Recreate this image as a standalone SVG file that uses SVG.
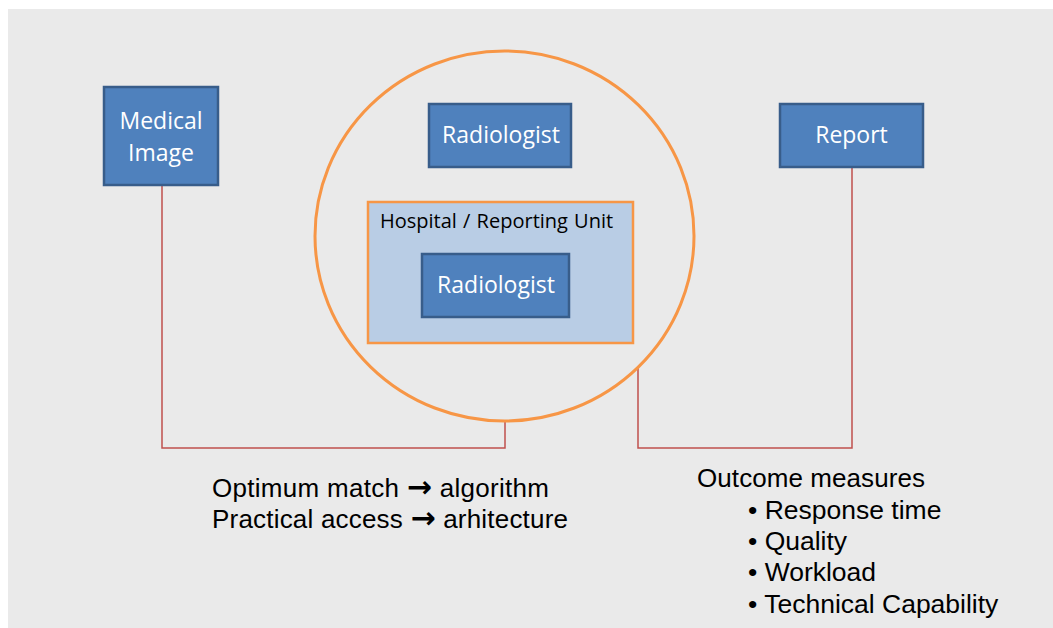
<svg xmlns="http://www.w3.org/2000/svg" width="1053" height="628" viewBox="0 0 1053 628">
  <style>
    .box { fill: #4F81BD; stroke: #385D8A; stroke-width: 2.5; }
    .boxlabel { font-family: "Open Sans", "Liberation Sans", sans-serif; font-size: 23px; fill: #FFFFFF; text-anchor: middle; }
    .link { fill: none; stroke: #C0504D; stroke-width: 1.5; }
    .note { font-family: "Liberation Sans", Arial, sans-serif; font-size: 26px; fill: #000000; }
    .item { font-family: "Liberation Sans", Arial, sans-serif; font-size: 26.5px; fill: #000000; }
    .arrow { font-family: "DejaVu Sans", sans-serif; font-weight: bold; font-size: 30px; }
  </style>

  <!-- page background -->
  <rect x="8" y="9" width="1045" height="619" fill="#EAEAEA"/>

  <!-- connectors -->
  <g id="connectors">
    <polyline class="link" points="162,186 162,448 505,448 505,421"/>
    <polyline class="link" points="638,368 638,448 852,448 852,168"/>
  </g>

  <!-- orange ring around the reporting side -->
  <g id="reporting-circle">
    <ellipse cx="504.5" cy="236" rx="189.5" ry="185" fill="none" stroke="#F79646" stroke-width="3"/>
  </g>

  <g id="medical-image">
    <rect class="box" x="104" y="87" width="114" height="98"/>
    <text class="boxlabel" x="161" y="129" font-size="24">Medical</text>
    <text class="boxlabel" x="161" y="161" font-size="24">Image</text>
  </g>

  <g id="radiologist-remote">
    <rect class="box" x="429" y="104" width="142" height="63"/>
    <text class="boxlabel" x="501" y="143">Radiologist</text>
  </g>

  <g id="hospital-unit">
    <rect x="368" y="202" width="265" height="141" fill="#B9CDE5" stroke="#F79646" stroke-width="2.5"/>
    <text x="380" y="228" font-family="Open Sans, Liberation Sans, sans-serif" font-size="20" word-spacing="1" fill="#000000">Hospital / Reporting  Unit</text>
  </g>

  <g id="radiologist-local">
    <rect class="box" x="422" y="254" width="147" height="63"/>
    <text class="boxlabel" x="496" y="293">Radiologist</text>
  </g>

  <g id="report">
    <rect class="box" x="780" y="104" width="143" height="63"/>
    <text class="boxlabel" x="851.5" y="143">Report</text>
  </g>

  <g id="matching-notes">
    <text class="note" x="212" y="497" textLength="337" lengthAdjust="spacing">Optimum match <tspan class="arrow">→</tspan> algorithm</text>
    <text class="note" x="212" y="528" textLength="356" lengthAdjust="spacing">Practical access <tspan class="arrow">→</tspan> arhitecture</text>
  </g>

  <g id="outcome-measures">
    <text class="note" x="697" y="487" textLength="228" lengthAdjust="spacing">Outcome measures</text>
    <text class="item" x="748" y="519">• Response time</text>
    <text class="item" x="748" y="550">• Quality</text>
    <text class="item" x="748" y="581">• Workload</text>
    <text class="item" x="748" y="613">• Technical Capability</text>
  </g>
</svg>
